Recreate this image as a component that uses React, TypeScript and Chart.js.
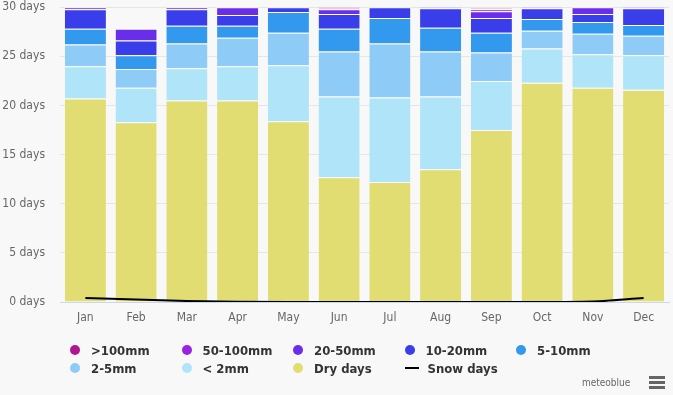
import React, { useEffect, useRef } from "react";
import { Chart, registerables } from "chart.js";

Chart.register(...registerables);

const months = ["Jan", "Feb", "Mar", "Apr", "May", "Jun", "Jul", "Aug", "Sep", "Oct", "Nov", "Dec"];
const yTicks = [0, 5, 10, 15, 20, 25, 30];

const dryDays = [20.7, 18.3, 20.5, 20.5, 18.4, 12.7, 12.2, 13.5, 17.5, 22.3, 21.8, 21.6];
const lt2mm = [3.3, 3.5, 3.3, 3.5, 5.7, 8.2, 8.6, 7.4, 5.0, 3.5, 3.4, 3.5];
const mm2to5 = [2.2, 1.9, 2.5, 2.9, 3.3, 4.6, 5.5, 4.6, 2.9, 1.8, 2.1, 2.0];
const mm5to10 = [1.6, 1.4, 1.8, 1.2, 2.1, 2.3, 2.6, 2.4, 2.0, 1.2, 1.2, 1.1];
const mm10to20 = [2.0, 1.5, 1.7, 1.1, 0.5, 1.5, 1.1, 2.0, 1.5, 1.1, 0.8, 1.7];
const mm20to50 = [0.2, 1.2, 0.2, 0.8, 0, 0.5, 0, 0.1, 0.7, 0.1, 0.7, 0.1];
const mm50to100 = [0, 0, 0, 0, 0, 0.1, 0, 0, 0.2, 0, 0, 0];
const gt100mm = [0, 0, 0, 0, 0, 0.1, 0, 0, 0.1, 0, 0, 0];
const snowDays = [0.4, 0.25, 0.1, 0.02, 0, 0, 0, 0, 0, 0, 0.05, 0.4];

const COLORS = {
  gt100: "#b0168f",
  m50: "#9a22e0",
  m20: "#6a2eea",
  m10: "#3a3eea",
  m5: "#3399ee",
  m2: "#8ecbf6",
  lt2: "#b0e4f8",
  dry: "#e2dd72",
};

const FONT = '"Liberation Sans Narrow", "DejaVu Sans Condensed", "Open Sans", sans-serif';

const legendItems = [
  { label: ">100mm", color: COLORS.gt100, row: 0, col: 0 },
  { label: "50-100mm", color: COLORS.m50, row: 0, col: 1 },
  { label: "20-50mm", color: COLORS.m20, row: 0, col: 2 },
  { label: "10-20mm", color: COLORS.m10, row: 0, col: 3 },
  { label: "5-10mm", color: COLORS.m5, row: 0, col: 4 },
  { label: "2-5mm", color: COLORS.m2, row: 1, col: 0 },
  { label: "< 2mm", color: COLORS.lt2, row: 1, col: 1 },
  { label: "Dry days", color: COLORS.dry, row: 1, col: 2 },
  { label: "Snow days", color: "#000", row: 1, col: 3, line: true },
];

export default function App() {
  const ref = useRef<HTMLCanvasElement | null>(null);

  useEffect(() => {
    if (!ref.current) return;
    const bar = (label: string, data: number[], color: string) => ({
      type: "bar" as const,
      label,
      data,
      backgroundColor: color,
      borderColor: "#ffffff",
      borderWidth: { top: 1, left: 0, right: 0, bottom: 0 },
      borderSkipped: false,
      stack: "rain",
      order: 1,
      categoryPercentage: 1,
      barPercentage: 0.81,
    });
    const chart = new Chart(ref.current, {
      type: "bar",
      data: {
        labels: months,
        datasets: [
          {
            type: "line",
            label: "Snow days",
            data: snowDays,
            borderColor: "#000",
            borderWidth: 2,
            pointRadius: 0,
            cubicInterpolationMode: "monotone",
            fill: false,
            stack: "snow",
            order: 0,
          } as any,
          bar("Dry days", dryDays, COLORS.dry),
          bar("< 2mm", lt2mm, COLORS.lt2),
          bar("2-5mm", mm2to5, COLORS.m2),
          bar("5-10mm", mm5to10, COLORS.m5),
          bar("10-20mm", mm10to20, COLORS.m10),
          bar("20-50mm", mm20to50, COLORS.m20),
          bar("50-100mm", mm50to100, COLORS.m50),
          bar(">100mm", gt100mm, COLORS.gt100),
        ],
      },
      options: {
        responsive: false,
        animation: false,
        layout: { padding: { left: 0, top: 7, right: 4, bottom: 63 } },
        plugins: { legend: { display: false }, tooltip: { enabled: false } },
        scales: {
          x: {
            stacked: true,
            grid: { display: false },
            border: { display: true, color: "#ccd6eb", width: 1 },
            ticks: { color: "#666", font: { family: FONT, size: 12 }, padding: 1, maxRotation: 0 },
            afterFit: (s: any) => { s.height = 30; },
          },
          y: {
            stacked: true,
            min: 0,
            max: 30,
            afterBuildTicks: (s: any) => { s.ticks = yTicks.map((v) => ({ value: v })); },
            grid: { color: "#e6e6e6", drawTicks: true, tickLength: 15, tickColor: "rgba(0,0,0,0)" },
            border: { display: false },
            ticks: {
              color: "#666",
              font: { family: FONT, size: 12 },
              padding: 0,
              callback: (v: any) => `${v} days`,
            },
            afterFit: (s: any) => { s.width = 60; },
          },
        },
      },
    });
    return () => chart.destroy();
  }, []);

  return (
    <div style={{ position: "fixed", left: 0, top: 0, width: 673, height: 395, background: "#f8f8f8", overflow: "hidden", fontFamily: FONT }}>
      <canvas ref={ref} width={673} height={395} style={{ position: "absolute", left: 0, top: 0 }} />
      {legendItems.map((it) => {
        const x = 70 + it.col * 111.5;
        const y = 350 + it.row * 18;
        return (
          <div key={it.label} style={{ position: "absolute", left: x, top: y - 9, height: 18, display: "flex", alignItems: "center", whiteSpace: "nowrap" }}>
            {it.line ? (
              <span style={{ display: "inline-block", width: 14, height: 2, background: "#000", marginRight: 9 }} />
            ) : (
              <span style={{ display: "inline-block", width: 10, height: 10, borderRadius: 5, background: it.color, marginLeft: 0, marginRight: 11 }} />
            )}
            <span style={{ fontSize: 13, fontWeight: "bold", color: "#333" }}>{it.label}</span>
          </div>
        );
      })}
      <div style={{ position: "absolute", left: 582, top: 377, fontSize: 10, color: "#666" }}>meteoblue</div>
      <div style={{ position: "absolute", left: 649, top: 376 }}>
        {[0, 5, 10].map((o) => (
          <div key={o} style={{ position: "absolute", left: 0, top: o, width: 16, height: 3, background: "#666" }} />
        ))}
      </div>
    </div>
  );
}
